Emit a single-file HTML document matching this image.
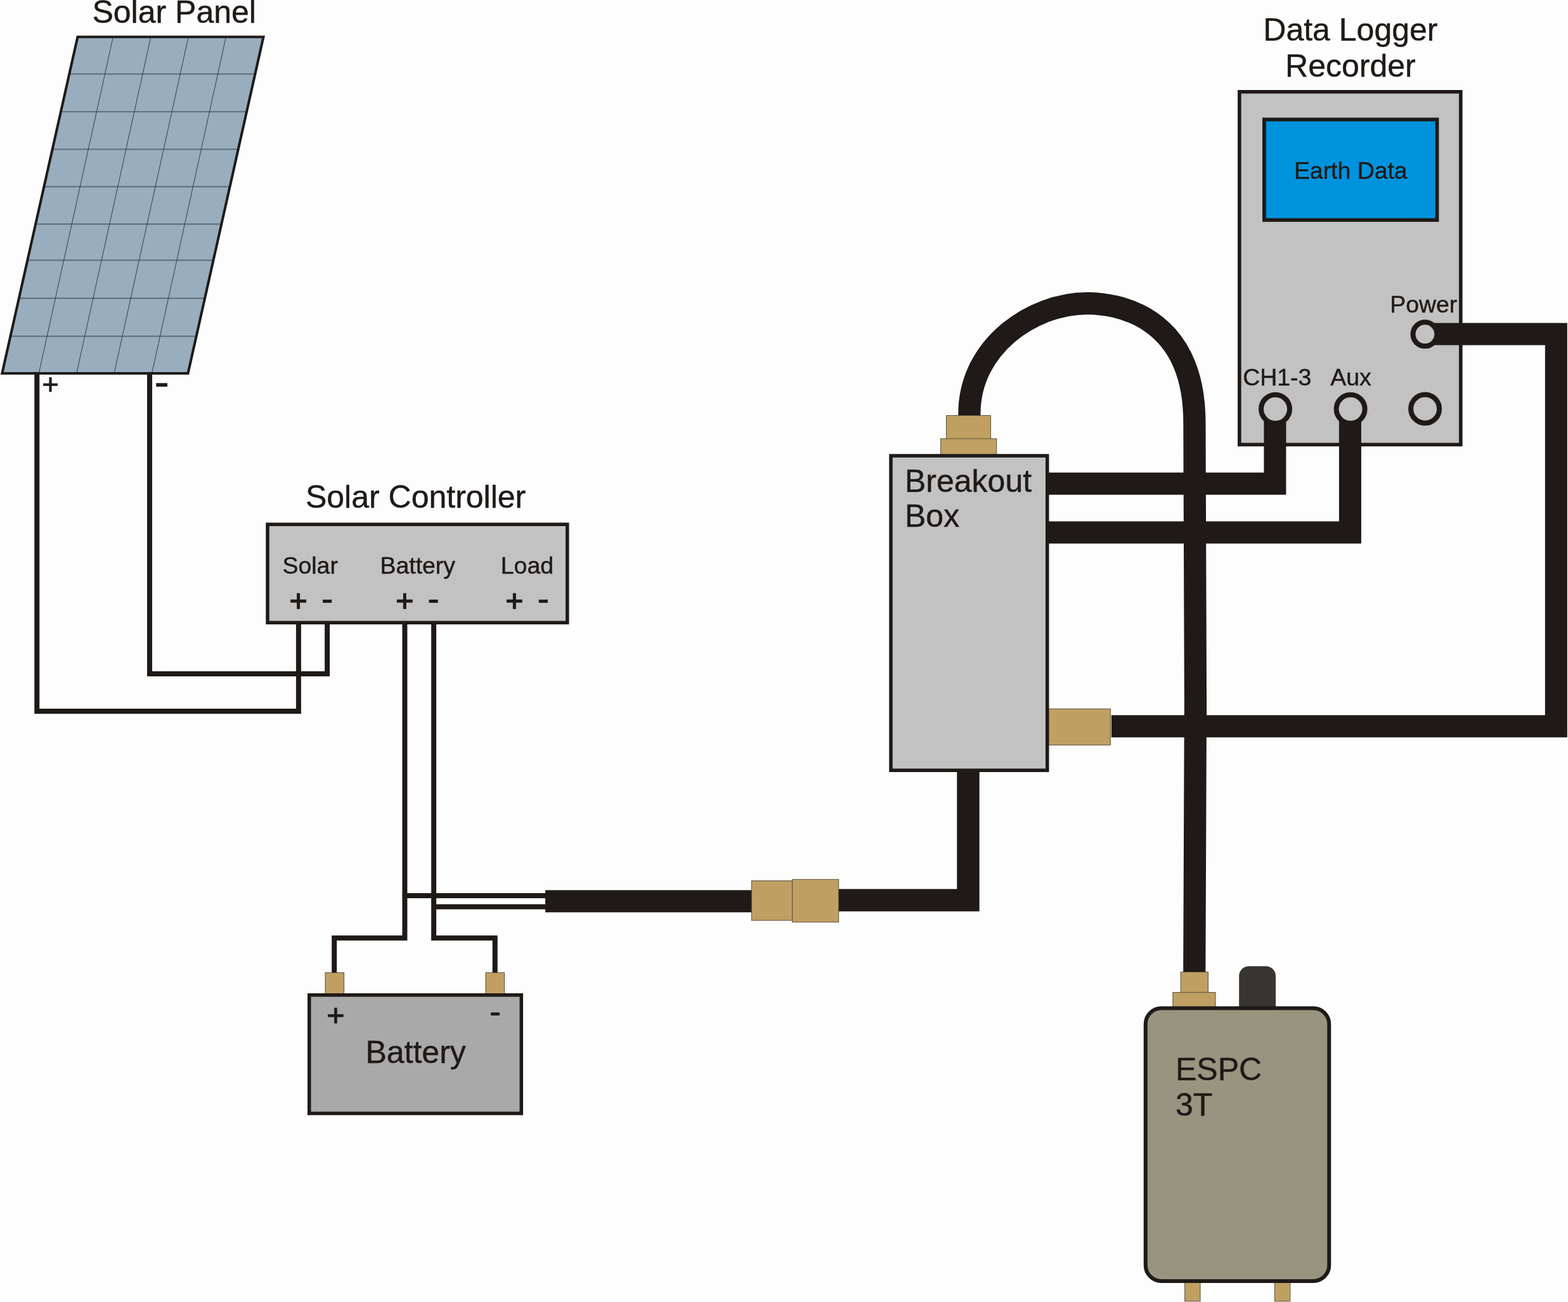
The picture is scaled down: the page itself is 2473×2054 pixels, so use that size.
<!DOCTYPE html>
<html lang="en"><head><meta charset="utf-8"><title>Solar powered seismic station wiring diagram</title>
<style>
html,body{margin:0;padding:0;background:#fdfdfd;}
body{width:2473px;height:2054px;overflow:hidden;}
svg{display:block;will-change:transform;}
text{font-family:"Liberation Sans",sans-serif;fill:#1f1a17;}
.t50{font-size:50px;}
.t37{font-size:37.4px;}
.pl{stroke:#1f1a17;stroke-linejoin:miter;}
.t50,.t37{stroke:#1f1a17;stroke-width:0.45px;}
.w{fill:none;stroke:#1f1a17;stroke-width:8;stroke-linejoin:miter;}
.c{fill:none;stroke:#1f1a17;stroke-width:35;stroke-linejoin:miter;}
.tan{fill:#c0a062;stroke:#5b4e38;stroke-width:1;}
.box{stroke:#1f1a17;stroke-width:5;}
</style></head><body>
<svg width="2473" height="2054" viewBox="0 0 2473 2054">
<rect x="0" y="0" width="2473" height="2054" fill="#fdfdfd"/>
<g id="panel">
<polygon points="122.4,58.2 415.5,58.2 296.5,589.05 3.3,589.05" fill="#98adbe"/>
<path d="M109.3 116.75H402.4M95.9 176.25H389.0M82.6 235.50H375.7M69.4 294.50H362.5M56.1 353.50H349.2M43.4 410.40H336.5M29.9 470.50H323.0M16.4 530.50H309.5" fill="none" stroke="#5a6d7c" stroke-width="2"/>
<path d="M178.40 58.2L61.25 589.0M237.90 58.2L120.75 589.0M297.15 58.2L180.00 589.0M356.40 58.2L239.50 589.0" fill="none" stroke="#2d3f50" stroke-width="1"/>
<polygon points="122.4,58.2 415.5,58.2 296.5,589.05 3.3,589.05" fill="none" stroke="#1f1a17" stroke-width="4" stroke-linejoin="miter"/>
</g>
<text class="t50" x="274.7" y="35.8" text-anchor="middle">Solar Panel</text>
<text class="pl" style="font-size:46.38px;stroke-width:0.67px" x="79.50" y="622" text-anchor="middle">+</text>
<text class="mi" style="font-size:71.70px" transform="translate(255.10 606.80) scale(1.014 1)" x="0" y="19.04" text-anchor="middle">-</text>
<g id="wires">
<path class="w" d="M58.25 590V1122H470.9V984"/>
<path class="w" d="M236 590V1062.9H516.1V984"/>
<path class="w" d="M638.4 984V1479.8H527.2V1536"/>
<path class="w" d="M684.1 984V1479.8H780.7V1536"/>
<path class="w" d="M638.4 1413.1H862"/>
<path class="w" d="M684.1 1430.5H862"/>
</g>
<g id="controller">
<rect x="422" y="827.25" width="472.75" height="155" fill="#c2c2c2" stroke="#1f1a17" stroke-width="5.5"/>
<text class="t50" x="655.6" y="801" text-anchor="middle">Solar Controller</text>
<text class="t37" x="489.2" y="904.6" text-anchor="middle">Solar</text>
<text class="t37" x="658.8" y="904.6" text-anchor="middle">Battery</text>
<text class="t37" x="831.4" y="904.6" text-anchor="middle">Load</text>
<text class="pl" style="font-size:48.31px;stroke-width:1.43px" x="470.55" y="964" text-anchor="middle">+</text>
<text class="mi" style="font-size:65.30px" transform="translate(516.05 948.45) scale(0.885 1)" x="0" y="17.34" text-anchor="middle">-</text>
<text class="pl" style="font-size:48.31px;stroke-width:1.43px" x="638.25" y="964" text-anchor="middle">+</text>
<text class="mi" style="font-size:65.30px" transform="translate(683.65 948.45) scale(0.885 1)" x="0" y="17.34" text-anchor="middle">-</text>
<text class="pl" style="font-size:48.31px;stroke-width:1.43px" x="811.25" y="964" text-anchor="middle">+</text>
<text class="mi" style="font-size:65.30px" transform="translate(856.85 948.45) scale(0.885 1)" x="0" y="17.34" text-anchor="middle">-</text>
</g>
<g id="battery">
<rect class="tan" x="513" y="1534.5" width="29.5" height="36"/>
<rect class="tan" x="766" y="1534.5" width="29.5" height="36"/>
<rect x="487.75" y="1569.75" width="334.5" height="186.75" fill="#a9a9a9" stroke="#1f1a17" stroke-width="5.5"/>
<text class="pl" style="font-size:48.43px;stroke-width:1.12px" x="529.45" y="1618" text-anchor="middle">+</text>
<text class="mi" style="font-size:61.46px" transform="translate(781.05 1599.50) scale(0.927 1)" x="0" y="16.32" text-anchor="middle">-</text>
<text class="t50" x="655.6" y="1676.8" text-anchor="middle">Battery</text>
</g>
<g id="logger">
<rect x="1954.8" y="144.8" width="349" height="556.6" fill="#c2c2c2" stroke="#1f1a17" stroke-width="5.6"/>
<rect x="1993.9" y="188.5" width="272.6" height="158.6" fill="#0093dd" stroke="#1f1a17" stroke-width="5.8"/>
<text class="t50" x="2129.9" y="63.7" text-anchor="middle">Data Logger</text>
<text class="t50" x="2129.9" y="121" text-anchor="middle">Recorder</text>
<text class="t37" x="2130.3" y="282" text-anchor="middle">Earth Data</text>
<text class="t37" x="2245.2" y="492.6" text-anchor="middle">Power</text>
<text class="t37" x="2014.3" y="608" text-anchor="middle">CH1-3</text>
<text class="t37" x="2130.5" y="608" text-anchor="middle">Aux</text>
</g>
<g id="cables">
<path class="c" d="M860 1421.75H1190"/>
<path class="c" style="stroke-width:35.4" d="M1318 1420.1H1527V1214"/>
<path class="c" style="stroke-width:35.2" d="M1528.9 662V652.7C1528.9 546.6 1628.2 478.6 1714.9 478.6C1756.3 478.6 1883.9 494 1883.9 667.1C1885.5 900 1886.5 1300 1883.75 1538"/>
<path class="c" d="M1652 763H2010.9V645"/>
<path class="c" d="M1652 840H2129.4V645"/>
<path class="c" d="M1752.8 1145.8H2454.3V527H2247.4"/>
</g>
<g id="sockets" fill="#c2c2c2" stroke="#1f1a17" stroke-width="8">
<circle cx="2011.5" cy="645.3" r="22.5"/>
<circle cx="2130.1" cy="645.3" r="22.5"/>
<circle cx="2247.6" cy="645" r="22.5"/>
<circle cx="2247.4" cy="527.2" r="18.9"/>
</g>
<g id="breakout">
<rect class="tan" x="1492.5" y="655.5" width="70" height="37"/>
<rect class="tan" x="1483.7" y="692" width="88" height="26"/>
<rect class="tan" x="1653" y="1118.3" width="98.3" height="57"/>
<rect x="1405.05" y="719" width="246.7" height="496.25" fill="#c2c2c2" stroke="#1f1a17" stroke-width="5.5"/>
<text class="t50" x="1427" y="775.5">Breakout</text>
<text class="t50" x="1427" y="831">Box</text>
</g>
<rect class="tan" x="1185.3" y="1389.5" width="64.5" height="62.5"/>
<rect class="tan" x="1249.6" y="1387.3" width="73.1" height="67.4"/>
<g id="espc">
<path d="M1954.2 1590V1539.8a15.5 15.5 0 0 1 15.5-15.5h26.8a15.5 15.5 0 0 1 15.5 15.5V1590Z" fill="#373431"/>
<rect class="tan" x="1862.2" y="1533.4" width="43.2" height="33"/>
<rect class="tan" x="1849.8" y="1565.6" width="67.2" height="24"/>
<rect class="tan" x="1868.6" y="2020" width="24.4" height="32.8"/>
<rect class="tan" x="2010.4" y="2020" width="24.4" height="32.8"/>
<rect x="1806.75" y="1590.5" width="289.5" height="430.5" rx="25" ry="25" fill="#979580" stroke="#1f1a17" stroke-width="6"/>
<text class="t50" x="1854" y="1703.8">ESPC</text>
<text class="t50" x="1854" y="1760.2">3T</text>
</g>
</svg></body></html>
